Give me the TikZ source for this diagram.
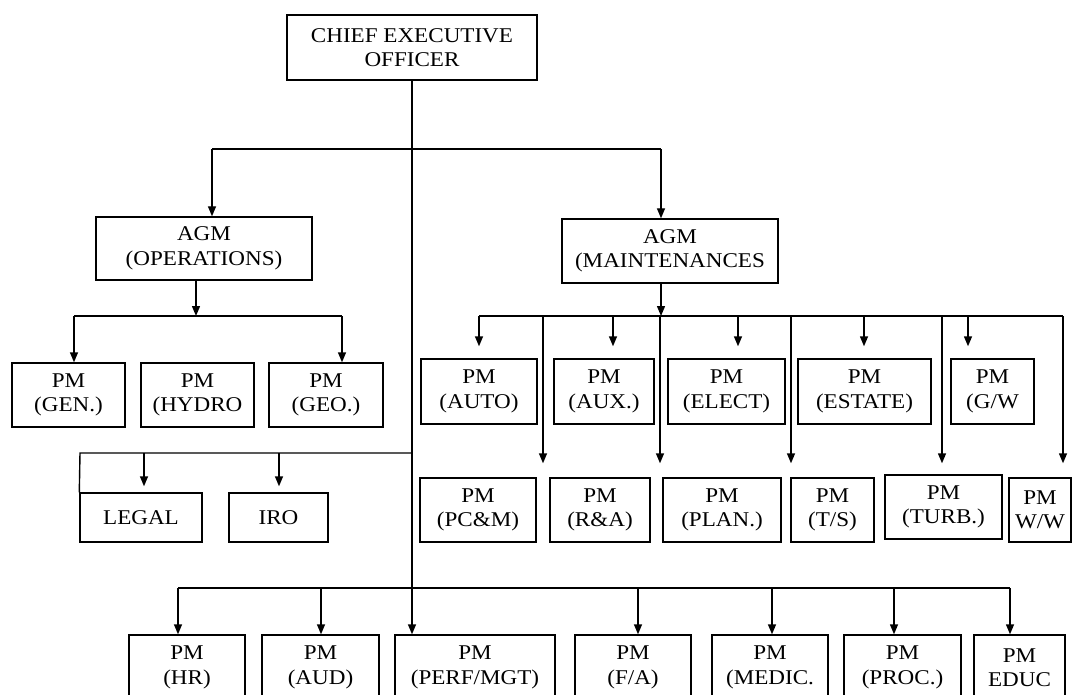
\documentclass[tikz,border=0pt]{standalone}
\usepackage{fontspec}
\setmainfont{Liberation Serif}[FakeStretch=1.1]
\usetikzlibrary{arrows.meta}
\tikzset{
  box/.style={draw, line width=1.4pt, inner sep=0pt, align=center,
              font=\fontsize{21}{24.5}\selectfont},
  wire/.style={line width=1.4pt},
  arr/.style={wire, -{Triangle[length=10pt,width=8pt]}},
}
% \orgbox{name}{left}{top}{right}{bottom}{text}
\newcommand\orgbox[6]{%
  \node[box, minimum width={(#4-#2)*1pt}, minimum height={(#5-#3)*1pt}]
    (#1) at ({(#2+#4)/2},{(#3+#5)/2}) {#6};}
\begin{document}
\begin{tikzpicture}[x=1pt, y=-1pt]
\useasboundingbox (0,0) rectangle (1081,695);
\clip (0,0) rectangle (1081,695);

% boxes
\orgbox{ceo}{287}{15}{537}{80}{CHIEF EXECUTIVE\\OFFICER}
\orgbox{ops}{96}{217}{312}{280}{AGM\\(OPERATIONS)}
\orgbox{mnt}{562}{219}{778}{283}{AGM\\(MAINTENANCES}

\orgbox{gen}{12}{363}{125}{427}{PM\\(GEN.)}
\orgbox{hydro}{141}{363}{254}{427}{PM\\(HYDRO}
\orgbox{geo}{269}{363}{383}{427}{PM\\(GEO.)}
\orgbox{legal}{80}{493}{202}{542}{LEGAL}
\orgbox{iro}{229}{493}{328}{542}{IRO}

\orgbox{auto}{421}{359}{537}{424}{PM\\(AUTO)}
\orgbox{aux}{554}{359}{654}{424}{PM\\(AUX.)}
\orgbox{elect}{668}{359}{785}{424}{PM\\(ELECT)}
\orgbox{estate}{798}{359}{931}{424}{PM\\(ESTATE)}
\orgbox{gw}{951}{359}{1034}{424}{PM\\(G/W}

\orgbox{pcm}{420}{478}{536}{542}{PM\\(PC\&M)}
\orgbox{rna}{550}{478}{650}{542}{PM\\(R\&A)}
\orgbox{plan}{663}{478}{781}{542}{PM\\(PLAN.)}
\orgbox{ts}{791}{478}{874}{542}{PM\\(T/S)}
\orgbox{turb}{885}{475}{1002}{539}{PM\\(TURB.)}
\orgbox{ww}{1009}{478}{1071}{542}{PM\\W/W}

\orgbox{hr}{129}{635}{245}{700}{PM\\(HR)}
\orgbox{aud}{262}{635}{379}{700}{PM\\(AUD)}
\orgbox{perf}{395}{635}{555}{700}{PM\\(PERF/MGT)}
\orgbox{fa}{575}{635}{691}{700}{PM\\(F/A)}
\orgbox{medic}{712}{635}{828}{700}{PM\\(MEDIC.}
\orgbox{proc}{844}{635}{961}{700}{PM\\(PROC.)}
\orgbox{educ}{974}{635}{1065}{700}{PM\\EDUC}

% main trunk from the CEO
\draw[arr] (ceo.south) -- (ceo.south |- perf.north);

% top bus to the two AGMs
\coordinate (tL) at (212,149);
\coordinate (tR) at (661,149);
\draw[wire] (tL) -- (tR);
\draw[arr] (tL) -- (tL |- ops.north);
\draw[arr] (tR) -- (tR |- mnt.north);

% operations branch
\coordinate (oj) at (196,316);
\coordinate (oL) at (74,316);
\coordinate (oR) at (342,316);
\draw[arr] (oj |- ops.south) -- (oj);
\draw[wire] (oL) -- (oR);
\draw[arr] (oL) -- (oL |- gen.north);
\draw[arr] (oR) -- (oR |- geo.north);

% maintenance branch
\coordinate (mj) at (661,316);
\coordinate (mL) at (479,316);
\coordinate (mE) at (1063,316);
\draw[arr] (mj |- mnt.south) -- (mj);
\draw[wire] (mL) -- (mE);
\foreach \x/\t in {479/auto, 613/aux, 738/elect, 864/estate, 968/gw}
  \draw[arr, shorten >=12pt] (\x,316) -- (\x,316 |- \t.north);
\foreach \x/\t/\s in {543/pcm/14pt, 660/plan/14pt, 791/ts/14pt, 942/turb/11pt, 1063/ww/14pt}
  \draw[arr, shorten >=\s] (\x,316) -- (\x,316 |- \t.north);

% legal / IRO branch
\coordinate (lE) at (ceo.south |- 0,453);
\coordinate (lL) at (80,453);
\draw[wire] (lE) -- (lL) -- (legal.north west);
\foreach \x/\t in {144/legal, 279/iro}
  \draw[arr, shorten >=6pt] (\x,453) -- (\x,453 |- \t.north);

% bottom bus
\coordinate (bL) at (178,588);
\coordinate (bR) at (1010,588);
\draw[wire] (bL) -- (bR);
\foreach \x/\t in {178/hr, 321/aud, 638/fa, 772/medic, 894/proc, 1010/educ}
  \draw[arr] (\x,588) -- (\x,588 |- \t.north);
\end{tikzpicture}
\end{document}
